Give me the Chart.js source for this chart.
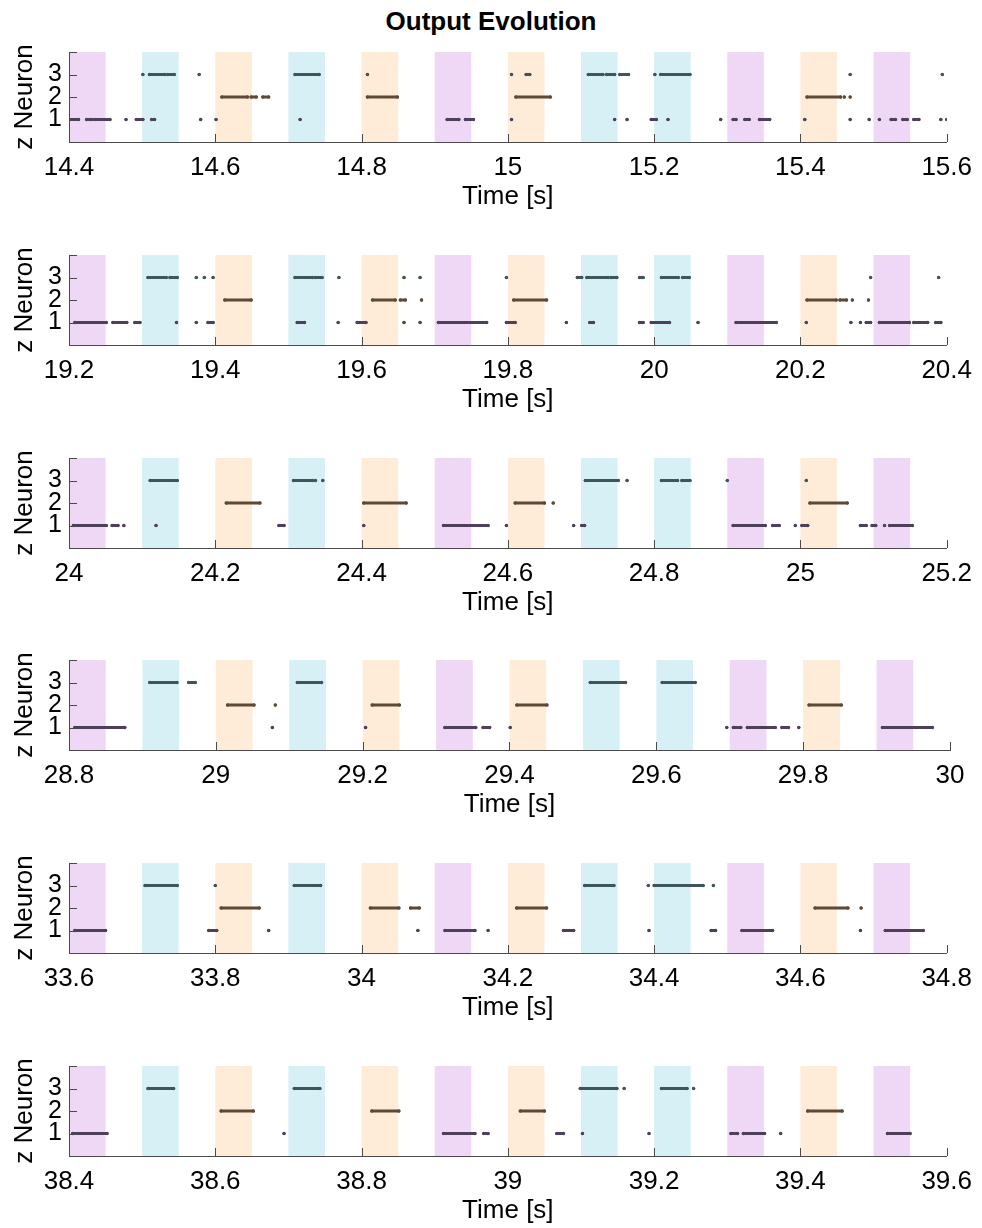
<!DOCTYPE html>
<html>
<head>
<meta charset="utf-8">
<title>Output Evolution</title>
<script src="https://cdn.jsdelivr.net/npm/chart.js@4.4.1/dist/chart.umd.min.js"></script>
<style>
  body { margin: 0; background: #fff; font-family: "Liberation Sans", Arial, sans-serif; }
  #page { position: relative; width: 982px; height: 1228px; overflow: hidden; }
  h1 { position: absolute; left: 0; top: 4px; width: 982px; margin: 0; text-align: center;
       font-size: 26px; line-height: 34px; font-weight: bold; color: #000; }
  .panel { position: absolute; left: 0; }
</style>
</head>
<body>
<div id="page">
  <h1>Output Evolution</h1>
</div>
<script>
// start of each subplot window [s]; every window is 1.2 s long
const windowStarts = [14.4, 19.2, 24.0, 28.8, 33.6, 38.4]
const windowLength = 1.2

// stimulus shown in each 0.1 s slot (1 = purple, 2 = orange, 3 = cyan), on for 0.05 s
const stimOrder = [1, 3, 2, 3, 2, 1, 2, 3, 3, 1, 2, 1]
const stimPeriod = 0.1
const stimDuration = 0.05

const neuronTicks = [1, 2, 3]

// spike times [s]: a number is one spike, [a, b] is a dense burst from a to b
const w1n1 = [[14.401, 14.413], [14.424, 14.431], [14.435, 14.456], 14.478, [14.492, 14.501], [14.513, 14.517], 14.580, 14.601, 14.716, [14.917, 14.933], [14.942, 14.953], 15.005, 15.146, 15.163, [15.196, 15.203], 15.219, 15.291, [15.308, 15.312], [15.324, 15.330], [15.344, 15.358], 15.406, 15.468, 15.494, 15.508, [15.524, 15.530], [15.540, 15.546], [15.555, 15.562], 15.592, 15.600]
const w1n2 = [[14.609, 14.644], [14.649, 14.656], [14.665, 14.673], [14.808, 14.849], [15.011, 15.058], [15.409, 15.455], 15.460, 15.468]
const w1n3 = [14.501, [14.510, 14.531], [14.535, 14.544], 14.578, [14.709, 14.742], 14.808, 15.005, [15.025, 15.030], [15.110, 15.130], [15.135, 15.146], [15.153, 15.165], 15.201, [15.209, 15.249], 15.468, 15.594]

const w2n1 = [[19.208, 19.251], [19.260, 19.279], [19.290, 19.297], 19.347, 19.374, [19.390, 19.397], [19.512, 19.522], 19.568, [19.594, 19.606], 19.658, 19.680, [19.705, 19.771], [19.798, 19.810], 19.880, [19.912, 19.917], [19.980, 19.985], [19.996, 20.021], 20.060, [20.112, 20.167], 20.208, 20.269, 20.282, [20.290, 20.296], [20.308, 20.349], [20.355, 20.374], [20.385, 20.392]]
const w2n2 = [[19.413, 19.449], [19.615, 19.646], [19.653, 19.660], 19.682, [19.808, 19.853], [20.209, 20.249], [20.254, 20.263], 20.271, 20.293]
const w2n3 = [[19.308, 19.333], [19.338, 19.348], 19.374, 19.385, 19.397, [19.509, 19.533], [19.537, 19.546], 19.569, 19.658, 19.680, 19.798, [19.895, 19.901], [19.908, 19.937], [19.941, 19.949], [19.980, 19.985], [20.010, 20.033], [20.039, 20.048], 20.296, 20.389]

const w3n1 = [[24.006, 24.051], [24.059, 24.067], 24.075, 24.119, [24.287, 24.294], 24.403, [24.512, 24.573], 24.598, 24.690, [24.701, 24.705], [24.908, 24.952], [24.962, 24.971], 24.993, [25.002, 25.010], [25.082, 25.090], [25.098, 25.103], 25.115, [25.122, 25.153]]
const w3n2 = [[24.215, 24.261], [24.403, 24.461], [24.610, 24.650], 24.662, [25.013, 25.064]]
const w3n3 = [[24.111, 24.148], [24.307, 24.333], 24.337, 24.347, [24.706, 24.751], 24.763, [24.810, 24.832], [24.838, 24.849], 24.900, 25.008]

const w4n1 = [[28.808, 28.876], 29.077, 29.204, [29.312, 29.354], [29.364, 29.373], 29.401, 29.696, [29.705, 29.715], [29.724, 29.762], [29.771, 29.780], 29.794, [29.908, 29.976]]
const w4n2 = [[29.016, 29.052], 29.081, [29.213, 29.250], [29.410, 29.451], [29.808, 29.852]]
const w4n3 = [[28.910, 28.947], [28.963, 28.972], [29.111, 29.144], [29.510, 29.558], [29.608, 29.653]]

const w5n1 = [[33.608, 33.650], [33.791, 33.802], 33.873, 34.077, [34.114, 34.155], 34.173, [34.276, 34.290], 34.393, [34.478, 34.484], [34.520, 34.562], 34.682, [34.716, 34.768]]
const w5n2 = [[33.808, 33.860], [34.012, 34.051], [34.067, 34.079], [34.212, 34.253], [34.620, 34.665], 34.683]
const w5n3 = [[33.704, 33.748], 33.800, [33.908, 33.944], [34.305, 34.345], 34.392, [34.400, 34.467], 34.481]

const w6n1 = [[38.405, 38.452], 38.694, [38.912, 38.955], [38.967, 38.973], [39.067, 39.076], 39.102, 39.193, [39.305, 39.314], [39.322, 39.351], 39.373, [39.519, 39.550]]
const w6n2 = [[38.608, 38.652], [38.814, 38.851], [39.017, 39.050], [39.410, 39.457]]
const w6n3 = [[38.508, 38.543], [38.708, 38.743], [39.099, 39.149], 39.159, [39.210, 39.245], 39.254]

const windowSpikes = [
  [w1n1, w1n2, w1n3],
  [w2n1, w2n2, w2n3],
  [w3n1, w3n2, w3n3],
  [w4n1, w4n2, w4n3],
  [w5n1, w5n2, w5n3],
  [w6n1, w6n2, w6n3],
]

const bandColors = { 1: '#efd8f6', 2: '#feebd8', 3: '#d7f0f5' }
const neuronColors = ['#4e405a', '#5e4936', '#3e5659']
const axisColor = '#4a4a4a'
const fontFamily = '"Liberation Sans", Arial, sans-serif'

Chart.defaults.font.family = fontFamily
Chart.defaults.color = '#000'

// turn spike list into line points, bursts become short segments
function toPoints(list, neuron) {
  const pts = []
  list.forEach(s => {
    if (Array.isArray(s)) {
      pts.push({ x: s[0], y: neuron }, { x: s[1], y: neuron }, { x: s[1], y: null })
    } else {
      pts.push({ x: s, y: neuron }, { x: s, y: null })
    }
  })
  return pts
}

// shaded stimulus windows, drawn under the axes
const stimBands = {
  id: 'stimBands',
  beforeDraw(chart, args, opts) {
    const { ctx, chartArea, scales: { x } } = chart
    ctx.save()
    stimOrder.forEach((cls, i) => {
      const t0 = opts.start + i * stimPeriod
      const x0 = x.getPixelForValue(t0)
      const x1 = x.getPixelForValue(t0 + stimDuration)
      ctx.fillStyle = bandColors[cls]
      ctx.fillRect(x0, chartArea.top, x1 - x0, chartArea.bottom - chartArea.top)
    })
    ctx.restore()
  }
}

// small inward tick marks like matlab axes
const innerTicks = {
  id: 'innerTicks',
  afterDraw(chart) {
    const { ctx, chartArea, scales: { x, y } } = chart
    ctx.save()
    ctx.strokeStyle = axisColor
    ctx.lineWidth = 1
    ctx.beginPath()
    x.ticks.forEach(t => {
      const px = Math.round(x.getPixelForValue(t.value)) + 0.5
      ctx.moveTo(px, chartArea.bottom)
      ctx.lineTo(px, chartArea.bottom - 8)
    })
    y.ticks.map(t => t.value).concat([y.max]).forEach(v => {
      const py = Math.round(y.getPixelForValue(v)) + 0.5
      ctx.moveTo(chartArea.left, py)
      ctx.lineTo(chartArea.left + 8, py)
    })
    ctx.stroke()
    ctx.restore()
  }
}

const page = document.getElementById('page')

windowStarts.forEach((start, k) => {
  const canvas = document.createElement('canvas')
  canvas.className = 'panel'
  canvas.width = 982
  canvas.height = 170
  canvas.style.width = '982px'
  canvas.style.height = '170px'
  canvas.style.top = (42 + k * 202.8) + 'px'
  page.appendChild(canvas)

  const datasets = windowSpikes[k].map((list, n) => ({
    data: toPoints(list, n + 1),
    borderColor: neuronColors[n],
    backgroundColor: neuronColors[n],
    borderWidth: 3.2,
    borderCapStyle: 'round',
    pointRadius: 1.7,
    pointBorderWidth: 0,
    pointHoverRadius: 0,
    spanGaps: false,
    tension: 0,
  }))

  new Chart(canvas.getContext('2d'), {
    type: 'line',
    data: { datasets },
    options: {
      responsive: false,
      maintainAspectRatio: false,
      animation: false,
      events: [],
      layout: { padding: { top: 10, right: 32, left: 0, bottom: 0 } },
      plugins: {
        legend: { display: false },
        tooltip: { enabled: false },
        stimBands: { start },
      },
      scales: {
        x: {
          type: 'linear',
          min: start,
          max: start + windowLength,
          grid: { display: false, drawTicks: false },
          border: { display: true, color: axisColor, width: 1 },
          ticks: {
            stepSize: 0.2,
            padding: 10,
            font: { size: 26 },
            color: '#000',
            maxRotation: 0,
            autoSkip: false,
            callback: v => String(+Number(v).toFixed(1)),
          },
          title: { display: true, text: 'Time [s]', font: { size: 26 }, color: '#000', padding: { top: 0, bottom: 0 } },
          afterFit: s => { s.height = 70 },
        },
        y: {
          min: 0,
          max: 4,
          grid: { display: false, drawTicks: false },
          border: { display: true, color: axisColor, width: 1 },
          afterBuildTicks: s => { s.ticks = neuronTicks.map(v => ({ value: v })) },
          ticks: {
            padding: 7,
            font: { size: 25 },
            color: '#000',
            autoSkip: false,
            callback: v => String(v),
          },
          title: { display: true, text: 'z Neuron', font: { size: 26 }, color: '#000', padding: { top: 9, bottom: 0 } },
          // labels sit well inside the axis, so no extra room at the ends
          afterFit: s => { s.width = 69; s.paddingTop = 0; s.paddingBottom = 0 },
        },
      },
    },
    plugins: [stimBands, innerTicks],
  })
})
</script>
</body>
</html>
